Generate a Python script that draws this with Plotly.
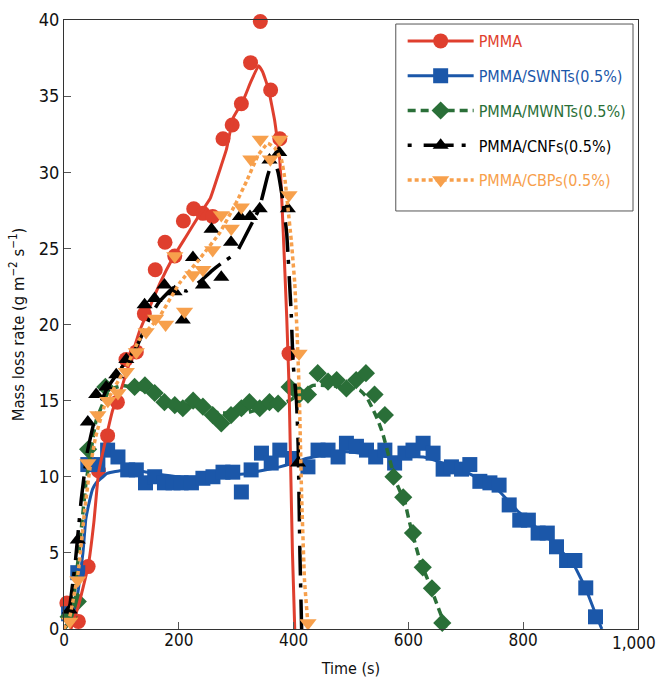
import plotly.graph_objects as go

# ---------------- data ----------------
# PMMA
pmma_mx = [5, 25, 42, 60, 76, 93, 108, 126, 140, 159, 176, 193, 208, 226, 242, 259, 277, 293, 309, 325, 342, 360, 376, 392]
pmma_my = [1.7, 0.5, 4.1, 10.4, 12.7, 14.9, 17.7, 18.2, 20.7, 23.6, 25.4, 24.5, 26.8, 27.6, 27.3, 27.1, 32.2, 33.1, 34.5, 37.2, 39.9, 35.4, 32.2, 18.1]
pmma_lx = [12, 25, 42, 52, 60, 70, 85, 100, 110, 132, 150, 167, 190, 213, 236, 255, 271, 283, 295, 312, 325, 339, 346, 356, 367, 376, 382, 388, 392, 395, 398, 402]
pmma_ly = [0, 1.5, 4.1, 7.0, 10.2, 12.0, 14.4, 15.8, 17.0, 19.6, 21.2, 22.7, 24.4, 25.8, 27.2, 28.3, 30.1, 31.5, 33.6, 34.7, 35.9, 37.0, 36.6, 35.5, 33.4, 30.8, 26.0, 20.5, 16.0, 10.4, 5.0, 0]

# PMMA/SWNTs(0.5%)
swnt_mx = [8, 24, 41.5, 59, 76, 94, 111, 126, 142, 158, 175, 190, 204, 222, 242, 259.5, 277, 294, 309, 326, 344, 361, 376, 398,
           425, 442.6, 460, 477.5, 492, 509.5, 527, 543, 559, 576, 594, 608, 625.6, 643, 660.5, 675, 692.6, 707, 724.5, 742, 758,
           775.6, 794, 809, 826, 842, 858, 875.6, 890, 909, 926]
swnt_my = [1.0, 3.7, 10.8, 10.8, 11.75, 11.3, 10.45, 10.45, 9.6, 10.0, 9.6, 9.6, 9.6, 9.6, 9.9, 10.0, 10.3, 10.3, 9.0, 10.45, 11.55, 10.9, 11.75, 11.2,
           10.65, 11.75, 11.75, 11.3, 12.2, 12.0, 11.75, 11.3, 11.75, 10.9, 11.55, 11.75, 12.2, 11.55, 10.5, 10.65, 10.5, 10.8, 9.7, 9.6, 9.45,
           8.15, 7.15, 7.15, 6.3, 6.3, 5.4, 4.5, 4.5, 2.7, 0.8]
swnt_lx = [0, 10, 18, 25, 33, 38, 45, 50, 56, 68, 74, 97, 130, 160, 200, 248, 318, 376, 399, 422, 492, 568, 626, 660, 701, 754, 789, 841, 887, 910, 925, 937]
swnt_ly = [0, 0.6, 1.25, 2.6, 5.0, 7.2, 8.5, 9.2, 9.6, 10.0, 10.2, 10.4, 10.4, 10.2, 10.0, 10.0, 10.2, 10.65, 10.9, 11.2, 11.65, 11.3, 11.3, 10.9, 10.3, 9.2, 7.8, 6.06, 4.3, 2.56, 1.1, 0]

# PMMA/MWNTs(0.5%)
mwnt_mx = [8, 24, 42, 72, 123, 141, 158, 175, 193, 207, 225, 242, 259, 274, 291, 309, 323, 341, 358, 373, 393, 410, 425, 442,
           460, 475, 492, 509, 526, 541, 559, 574, 591, 608, 625, 641, 659]
mwnt_my = [0.8, 1.8, 11.8, 15.9, 15.9, 16.0, 15.5, 14.9, 14.7, 14.5, 15.0, 14.6, 14.05, 13.5, 14.05, 14.5, 14.9, 14.5, 14.9, 14.8, 15.9, 15.4, 15.4, 16.8,
           16.25, 16.35, 15.8, 16.35, 16.8, 15.4, 14.05, 10.0, 8.65, 6.3, 4.05, 2.67, 0.4]
mwnt_lx = [0, 4, 15, 27, 38, 44, 56, 79, 102, 130, 166, 225, 271, 318, 364, 393, 434, 492, 515, 527, 538.5, 547, 556, 567.6, 579, 594, 602, 620, 632, 649, 666]
mwnt_ly = [0, 0.15, 1.5, 5.4, 9.5, 11.0, 13.7, 15.7, 16.0, 15.8, 15.2, 14.6, 14.2, 14.2, 14.7, 15.0, 16.0, 15.9, 15.7, 15.25, 14.4, 13.7, 12.75, 11.1, 9.6, 8.3, 7.0, 4.5, 3.4, 1.7, 0]

# PMMA/CNFs(0.5%)
cnf_mx = [10, 24, 41.5, 56, 73.6, 91, 108.5, 140.4, 157.8, 175, 192.7, 207, 224.6, 242, 257, 274, 291, 306.5, 324, 341, 358, 375, 390, 407.7]
cnf_my = [1.25, 5.85, 13.6, 15.4, 15.9, 16.7, 17.7, 21.3, 21.7, 22.6, 22.15, 20.3, 24.4, 22.6, 26.25, 23.1, 25.4, 27.1, 27.1, 27.6, 30.8, 31.3, 27.6, 10.9]
cnf_lx = [0, 10, 20, 30, 40, 55, 75, 97, 126, 150, 166, 190, 213, 236, 260, 277, 300, 324, 340, 355, 365, 373, 381, 388, 393, 396, 399, 405, 408, 409.5, 411, 414]
cnf_ly = [0, 1.5, 4.5, 8.5, 11.5, 14.0, 15.8, 17.0, 18.5, 20.5, 21.5, 22.4, 22.2, 22.8, 23.6, 24.1, 24.7, 26.4, 27.6, 29.8, 30.9, 30.0, 28.2, 26.0, 22.7, 20.6, 17.5, 15.0, 12.0, 8.5, 5.0, 0]

# PMMA/CBPs(0.5%)
cbp_mx = [10, 24, 41.5, 59, 76.4, 94, 108.5, 126, 143, 159.6, 177, 193, 210, 224.6, 242, 259, 274, 291.5, 309, 325.5, 342, 359.5, 376, 392, 409.5, 425]
cbp_my = [0.5, 3.2, 10.9, 14.05, 15.0, 15.5, 16.9, 18.2, 19.5, 20.4, 20.0, 24.5, 20.85, 23.25, 23.6, 24.9, 27.2, 26.3, 27.7, 30.85, 32.15, 30.85, 32.15, 28.5, 18.1, 0.4]
cbp_lx = [0, 10, 25, 36, 45, 55, 70, 90, 110, 131, 166, 201, 236, 271, 300, 318, 338, 355, 367, 379, 385, 390, 396, 402, 406, 410, 414, 419, 425]
cbp_ly = [0, 0.8, 3.8, 7.8, 10.5, 12.6, 14.6, 16.0, 17.3, 19.0, 20.5, 22.7, 24.3, 26.0, 28.0, 29.4, 31.1, 31.9, 31.6, 30.8, 29.5, 27.7, 25.5, 22.7, 19.5, 15.3, 8.7, 3.2, 0.3]

names = ["PMMA", "PMMA/SWNTs(0.5%)", "PMMA/MWNTs(0.5%)", "PMMA/CNFs(0.5%)", "PMMA/CBPs(0.5%)"]
x_ticks = [0, 200, 400, 600, 800, 1000]
x_ticklabels = ["0", "200", "400", "600", "800", "1,000"]
y_ticks = [0, 5, 10, 15, 20, 25, 30, 35, 40]

# ---------------- style ----------------
FONT = "DejaVu Sans Condensed, Liberation Sans Narrow, Arial Narrow, sans-serif"
RED = "#df3f2e"
BLUE = "#1b57a9"
GREEN = "#2a6f38"
BLACK = "#000000"
ORANGE = "#f7a04c"

styles = {
    "PMMA": dict(color=RED, line=dict(color=RED, width=3), symbol="circle", size=15),
    "PMMA/SWNTs(0.5%)": dict(color=BLUE, line=dict(color=BLUE, width=3), symbol="square", size=15),
    "PMMA/MWNTs(0.5%)": dict(color=GREEN, line=dict(color=GREEN, width=3.5, dash="8px,5px"), symbol="diamond", size=14),
    "PMMA/CNFs(0.5%)": dict(color=BLACK, line=dict(color=BLACK, width=3.5, dash="4px,12px,30px,8px"), symbol="triangle-up", size=14),
    "PMMA/CBPs(0.5%)": dict(color=ORANGE, line=dict(color=ORANGE, width=3.5, dash="4px,3px"), symbol="triangle-down", size=15),
}

fig = go.Figure()

def add_markers(name, xs, ys):
    s = styles[name]
    fig.add_trace(go.Scatter(x=xs, y=ys, mode="markers", legendgroup=name, showlegend=False,
                             marker=dict(color=s["color"], symbol=s["symbol"], size=s["size"], line=dict(width=0)),
                             cliponaxis=False, hoverinfo="x+y", name=name))

def add_line(name, xs, ys):
    s = styles[name]
    fig.add_trace(go.Scatter(x=xs, y=ys, mode="lines", legendgroup=name, showlegend=False,
                             line=dict(**s["line"], shape="spline", smoothing=0.3), hoverinfo="skip", name=name))

# drawing order
add_markers("PMMA", pmma_mx, pmma_my)
add_line("PMMA/SWNTs(0.5%)", swnt_lx, swnt_ly)
add_markers("PMMA/SWNTs(0.5%)", swnt_mx, swnt_my)
add_line("PMMA/MWNTs(0.5%)", mwnt_lx, mwnt_ly)
add_markers("PMMA/MWNTs(0.5%)", mwnt_mx, mwnt_my)
add_line("PMMA", pmma_lx, pmma_ly)
add_line("PMMA/CNFs(0.5%)", cnf_lx, cnf_ly)
add_markers("PMMA/CNFs(0.5%)", cnf_mx, cnf_my)
add_line("PMMA/CBPs(0.5%)", cbp_lx, cbp_ly)
add_markers("PMMA/CBPs(0.5%)", cbp_mx, cbp_my)

# legend entries (line + marker combined)
for n in names:
    s = styles[n]
    fig.add_trace(go.Scatter(x=[None], y=[None], mode="lines+markers", legendgroup=n,
                             name="<span style='color:%s'>%s</span>" % (s["color"], n),
                             line=s["line"],
                             marker=dict(color=s["color"], symbol=s["symbol"], size=s["size"], line=dict(width=0))))

axis_common = dict(showline=True, linecolor="#333333", linewidth=1, mirror=True, ticks="inside", ticklen=7,
                   tickcolor="#555555", tickwidth=1, showgrid=False, zeroline=False, automargin=False)

# legend frame (paper coordinates)
fig.add_shape(type="rect", xref="paper", yref="paper", x0=0.578, x1=0.9913, y0=0.6864, y1=0.9934,
              line=dict(color="#555555", width=1), fillcolor="white", layer="above")

# last x tick label placed as annotation so it stays inside the page
fig.add_annotation(x=x_ticks[-1], xref="x", y=0, yref="paper", yanchor="top", xanchor="center",
                   text=x_ticklabels[-1], showarrow=False, xshift=-4, yshift=-2,
                   font=dict(family=FONT, size=17, color="#111111"))

fig.update_layout(
    width=657, height=678,
    margin=dict(l=64, r=19, t=20, b=49, autoexpand=False),
    paper_bgcolor="white", plot_bgcolor="white",
    font=dict(family=FONT, size=17, color="#111111"),
    showlegend=True,
    legend=dict(x=0.590, y=0.9934, xanchor="left", yanchor="top", borderwidth=0,
                bgcolor="rgba(0,0,0,0)", tracegroupgap=11, itemwidth=66, font=dict(family=FONT, size=16)),
    xaxis=dict(range=[0, 1000], tickvals=x_ticks[:-1] + [x_ticks[-1]], ticktext=x_ticklabels[:-1] + [""],
               ticklabelstandoff=-4,
               tickfont=dict(family=FONT, size=17, color="#111111"),
               title=dict(text="Time (s)", font=dict(family=FONT, size=16), standoff=16), **axis_common),
    yaxis=dict(range=[0, 40], tickvals=y_ticks,
               tickfont=dict(family=FONT, size=18, color="#111111"),
               title=dict(text="Mass loss rate (g m<sup>\u22122</sup> s<sup>\u22121</sup>)", font=dict(family=FONT, size=16.5), standoff=10),
               **axis_common),
)

fig.write_html("out.html")
